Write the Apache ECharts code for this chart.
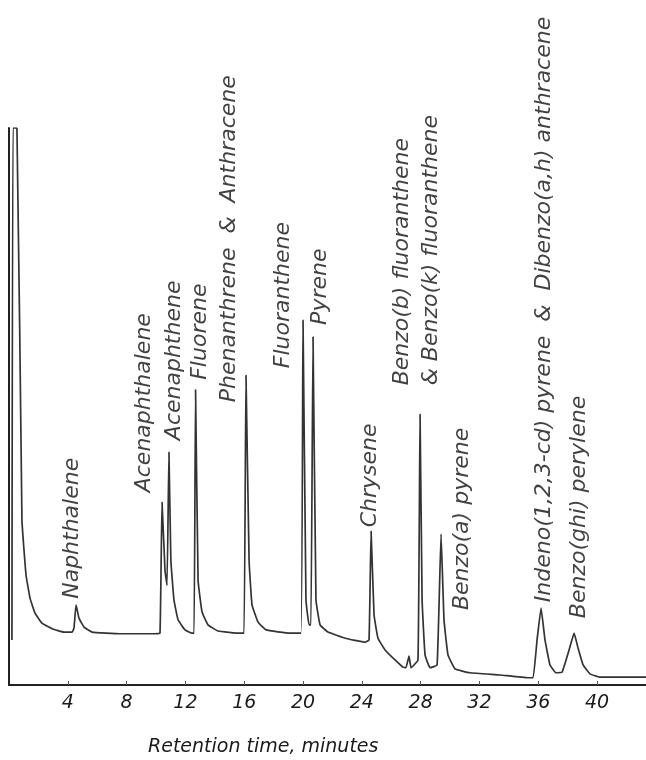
<!DOCTYPE html>
<html>
    <head>
        <meta charset="UTF-8" />
        <title>PAH chromatogram</title>
        <style>
            html,
            body {
                margin: 0;
                padding: 0;
                background: #fff;
            }
            #chart {
                width: 646px;
                height: 760px;
            }
        </style>
    </head>
    <body>
        <div id="chart"></div>
        <script src="https://cdn.jsdelivr.net/npm/echarts@6/dist/echarts.min.js"></script>
        <script>
            // detector trace: retention time (min) and response (0-100)
            const traceTime = [
                0.2, 0.27, 0.54, 0.88, 1.16, 1.43, 1.77, 2.24, 2.93, 3.74,
                4.29, 4.42, 4.56, 4.76, 5.1, 5.65, 7.55, 9.93,
                10.27, 10.41, 10.61, 10.75, 10.88, 11.01, 11.22, 11.5, 11.97, 12.45,
                12.59, 12.69, 12.86, 13.13, 13.54, 14.22, 15.71,
                15.99, 16.12, 16.33, 16.53, 16.94, 17.48, 19.12,
                19.86, 20.0, 20.2, 20.41, 20.54, 20.68, 20.88, 21.16, 21.7, 22.86, 24.22,
                24.49, 24.63, 24.83, 25.1, 25.58, 26.26, 26.8,
                27.0, 27.21, 27.35, 27.82, 27.96, 28.1, 28.3, 28.64,
                29.12, 29.39, 29.59, 29.86, 30.34, 31.36, 33.4, 35.31,
                35.65, 35.92, 36.19, 36.46, 36.8, 37.21,
                37.62, 38.1, 38.44, 38.71, 39.05, 39.52, 40.2, 43.33
            ];
            const traceSignal = [
                8.1, 100, 100, 29.6, 19.7, 15.6, 12.9, 11.1, 10.1, 9.5,
                9.5, 10.2, 14.4, 12.0, 10.4, 9.5, 9.2, 9.2,
                9.3, 32.8, 20.6, 17.9, 41.8, 22.4, 15.3, 11.7, 9.9, 9.3,
                9.3, 53.0, 18.8, 13.1, 10.8, 9.7, 9.3,
                9.3, 55.6, 22.4, 14.4, 11.3, 9.9, 9.3,
                9.3, 65.5, 15.3, 10.8, 10.8, 62.5, 15.3, 10.8, 9.5, 8.4, 7.7,
                8.1, 27.6, 12.6, 8.4, 6.3, 4.5, 3.2,
                3.1, 5.2, 3.1, 4.5, 48.6, 15.3, 5.4, 3.1,
                3.6, 27.1, 11.7, 5.4, 2.9, 2.2, 1.8, 1.3,
                1.3, 8.1, 13.8, 8.1, 3.6, 2.2,
                2.3, 6.3, 9.3, 6.6, 3.6, 2.0, 1.4, 1.4
            ];

            // labelled peaks
            const peakNames = [
                "Naphthalene",
                "Acenaphthalene",
                "Acenaphthene",
                "Fluorene",
                "Phenanthrene  &  Anthracene",
                "Fluoranthene",
                "Pyrene",
                "Chrysene",
                "Benzo(b) fluoranthene\n& Benzo(k) fluoranthene",
                "Benzo(a) pyrene",
                "Indeno(1,2,3-cd) pyrene  &  Dibenzo(a,h) anthracene",
                "Benzo(ghi) perylene"
            ];
            const peakTime = [4.56, 10.41, 10.88, 12.69, 16.12, 20.0, 20.68, 24.63, 27.96, 29.39, 36.19, 38.44];
            const peakSignal = [14.4, 32.8, 41.8, 53.0, 55.6, 65.5, 62.5, 27.6, 48.6, 27.1, 13.8, 9.3];

            const xTicks = [4, 8, 12, 16, 20, 24, 28, 32, 36, 40];

            // where each name starts relative to its peak top, screen px [right, down]
            const labelShift = [
                [-4, -6], [-18, -10], [5, -12], [5, -10], [-17, 27], [-20, 48],
                [7, -12], [-1, -4], [-3, -29], [21, 76], [3, -6], [5, -15]
            ];

            const font = "'DejaVu Sans', sans-serif";
            const chart = echarts.init(document.getElementById("chart"));

            chart.setOption({
                animation: false,
                title: {
                    text: "Retention time, minutes",
                    left: 143,
                    top: 733,
                    textStyle: { fontFamily: font, fontStyle: "italic", fontWeight: "normal", fontSize: 19, color: "#1a1a1a" }
                },
                grid: { left: 9, right: 0, top: 128, bottom: 75 },
                xAxis: {
                    type: "value",
                    min: 0,
                    max: 43.33,
                    interval: 4,
                    axisLine: { lineStyle: { color: "#222", width: 2 } },
                    axisTick: { show: true, inside: true, length: 4, lineStyle: { color: "#555" } },
                    splitLine: { show: false },
                    axisLabel: {
                        showMinLabel: false,
                        showMaxLabel: false,
                        margin: 9,
                        fontFamily: font,
                        fontStyle: "italic",
                        fontSize: 19,
                        color: "#1a1a1a",
                        formatter: (v) => (xTicks.includes(v) ? String(v) : "")
                    }
                },
                yAxis: {
                    type: "value",
                    min: 0,
                    max: 100,
                    axisLine: { show: true, lineStyle: { color: "#222", width: 2 } },
                    axisTick: { show: false },
                    axisLabel: { show: false },
                    splitLine: { show: false }
                },
                series: [
                    {
                        type: "line",
                        data: traceTime.map((t, i) => [t, traceSignal[i]]),
                        showSymbol: false,
                        smooth: 0.1,
                        lineStyle: { color: "#333", width: 1.7 }
                    },
                    {
                        type: "scatter",
                        symbolSize: 0,
                        silent: true,
                        data: peakTime.map((t, i) => ({
                            value: [t, peakSignal[i]],
                            name: peakNames[i],
                            // label offset is applied in the rotated frame
                            label: { offset: [-labelShift[i][1], labelShift[i][0]] }
                        })),
                        label: {
                            show: true,
                            position: "inside",
                            rotate: 90,
                            align: "left",
                            verticalAlign: "middle",
                            formatter: (p) => p.name,
                            fontFamily: font,
                            fontStyle: "italic",
                            fontSize: 22,
                            lineHeight: 29,
                            color: "#111"
                        }
                    }
                ]
            });
        </script>
    </body>
</html>
